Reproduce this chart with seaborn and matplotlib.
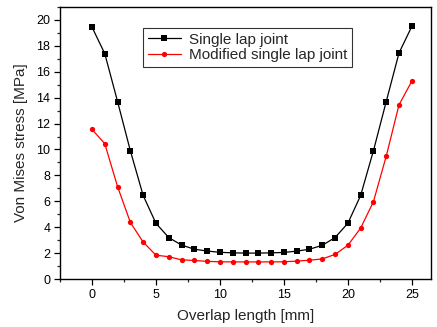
import matplotlib
matplotlib.use("Agg")
import matplotlib.pyplot as plt
import seaborn as sns
import pandas as pd
import numpy as np
from matplotlib.ticker import MultipleLocator

overlap = list(range(0, 26))
single = [19.45, 17.4, 13.7, 9.9, 6.45, 4.3, 3.2, 2.62, 2.3, 2.16, 2.06, 2.02, 2.0,
          2.0, 2.02, 2.05, 2.15, 2.3, 2.6, 3.2, 4.3, 6.45, 9.9, 13.7, 17.45, 19.5]
modified = [11.55, 10.45, 7.13, 4.37, 2.85, 1.84, 1.72, 1.48, 1.43, 1.36, 1.33, 1.32, 1.32,
            1.32, 1.32, 1.33, 1.38, 1.45, 1.55, 1.9, 2.6, 3.93, 5.97, 9.48, 13.45, 15.27]
series_names = ["Single lap joint", "Modified single lap joint"]

df = pd.DataFrame({
    "x": overlap * 2,
    "y": single + modified,
    "s": [series_names[0]] * len(overlap) + [series_names[1]] * len(overlap),
})

sns.set_style("ticks")
plt.rcParams["font.family"] = ["Liberation Sans", "DejaVu Sans"]

fig = plt.figure(figsize=(4.37, 3.27), dpi=100)
ax = fig.add_axes([60/437, 48/327, 371/437, 272/327])

sns.lineplot(data=df, x="x", y="y", hue="s", style="s",
             palette={series_names[0]: "black", series_names[1]: "red"},
             markers={series_names[0]: "s", series_names[1]: "o"},
             dashes=False, markersize=3.8, markeredgewidth=0, linewidth=0.9, ax=ax)

ax.set_xlim(-2.5, 26.5)
ax.set_ylim(0, 21)
ax.xaxis.set_major_locator(MultipleLocator(5))
ax.xaxis.set_minor_locator(MultipleLocator(2.5))
ax.yaxis.set_major_locator(MultipleLocator(2))
ax.yaxis.set_minor_locator(MultipleLocator(1))
ax.tick_params(which="major", direction="out", length=4, width=0.9, labelsize=9, colors="black", pad=3)
ax.tick_params(which="minor", direction="out", length=2.5, width=0.9)
for sp in ax.spines.values():
    sp.set_linewidth(1.0)
    sp.set_color("black")
    sp.set_visible(True)

ax.set_xlabel("Overlap length [mm]", fontsize=11, labelpad=6)
ax.set_ylabel("Von Mises stress [MPa]", fontsize=11, labelpad=6)

handles, labels = ax.get_legend_handles_labels()
leg = ax.legend(handles, labels, loc="upper left", bbox_to_anchor=(0.224, 0.923),
                fontsize=11, frameon=True, fancybox=False, edgecolor="black",
                handlelength=2.2, borderpad=0.3, labelspacing=0.1, handletextpad=0.5,
                borderaxespad=0)
leg.get_frame().set_linewidth(0.8)

fig.savefig("out.png", dpi=100)
